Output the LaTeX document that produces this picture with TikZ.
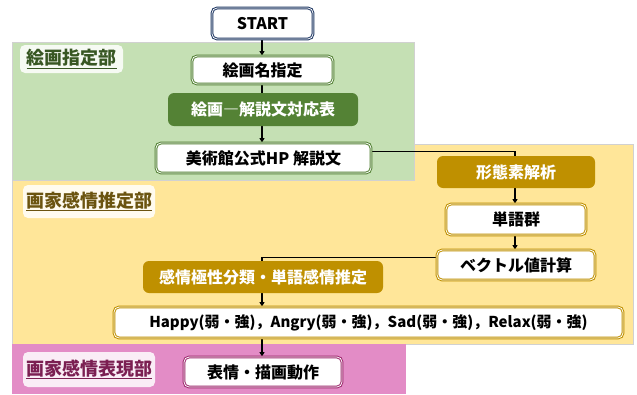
\documentclass[tikz,border=0pt]{standalone}
\usepackage{fontspec}
\setmainfont{Noto Sans CJK JP}
\usetikzlibrary{arrows.meta}
\definecolor{greg}{HTML}{C5E0B4}
\definecolor{yelreg}{HTML}{FFE699}
\definecolor{pinkreg}{HTML}{E38CC6}
\definecolor{dgreen}{HTML}{548235}
\definecolor{ochre}{HTML}{BF9000}
\definecolor{navy}{HTML}{203864}
\definecolor{magb}{HTML}{9E2A6E}
\definecolor{gtext}{HTML}{385723}
\definecolor{ytext}{HTML}{6B5410}
\definecolor{ptext}{HTML}{7B1F52}
\pgfdeclarelayer{regions}
\pgfdeclarelayer{edges}
\pgfsetlayers{regions,edges,main}
\tikzset{
  wbox/.style={fill=white, rounded corners=5, line width=1pt, double=white, double distance=0.8pt, font=\fontsize{16}{18}\selectfont\bfseries, inner sep=0pt},
  fbox/.style={rounded corners=6, text=white, font=\fontsize{16}{18}\selectfont\bfseries, inner sep=0pt},
  labbox/.style={fill=white, fill opacity=0.85, text opacity=1, rounded corners=5, font=\fontsize{18}{20}\selectfont\bfseries, inner sep=0pt},
  region/.style={draw=black!18, line width=0.6pt},
  conn/.style={line width=1.1pt, black},
  arr/.style={conn, -{Triangle[length=4.5pt, width=5pt]}}
}
\begin{document}
\begin{tikzpicture}[x=1pt, y=-1pt]
\useasboundingbox (0,0) rectangle (637,394);
\begin{pgfonlayer}{regions}
  \filldraw[region, fill=yelreg] (12,144) rectangle (633,344);
  \filldraw[region, fill=greg] (12,42) rectangle (414,180);
  \fill[pinkreg] (12,344) rectangle (406,394);
\end{pgfonlayer}
% labels
\node[labbox, minimum width=103, minimum height=28, text=gtext] (lab1) at (71.5,59) {\underline{絵画指定部}};
\node[labbox, minimum width=132, minimum height=33, text=ytext] (lab2) at (89,201.5) {\underline{画家感情推定部}};
\node[labbox, minimum width=132, minimum height=35, text=ptext] (lab3) at (89,369.5) {\underline{画家感情表現部}};
% nodes
\node[wbox, draw=navy, minimum width=101, minimum height=31] (start) at (262.5,23.5) {START};
\node[wbox, draw=dgreen, minimum width=141, minimum height=28] (name) at (262.5,70) {絵画名指定};
\node[fbox, fill=dgreen, minimum width=190, minimum height=33] (table) at (263,109.5) {絵画―解説文対応表};
\node[wbox, draw=dgreen, minimum width=215, minimum height=30] (hp) at (263.5,158) {美術館公式HP 解説文};
\node[fbox, fill=ochre, minimum width=158, minimum height=32] (morph) at (516,172) {形態素解析};
\node[wbox, draw=ochre, minimum width=140, minimum height=31] (words) at (516,219.5) {単語群};
\node[wbox, draw=ochre, minimum width=158, minimum height=30] (vec) at (516,265) {ベクトル値計算};
\node[fbox, fill=ochre, minimum width=240, minimum height=32] (emo) at (263,277) {感情極性分類・単語感情推定};
\node[wbox, draw=ochre, minimum width=509, minimum height=31, font=\fontsize{15}{17}\selectfont\bfseries] (res) at (368.5,322.5) {Happy(弱・強)，Angry(弱・強)，Sad(弱・強)，Relax(弱・強)};
\node[wbox, draw=magb, minimum width=158, minimum height=30] (expr) at (263,372) {表情・描画動作};
% connectors
\begin{pgfonlayer}{edges}
  \draw[arr] (262,0 |- start.south) -- (262,0 |- name.north);
  \draw[conn] (262,0 |- name.south) -- (262,0 |- table.north);
  \draw[arr] (262,0 |- table.south) -- (262,0 |- hp.north);
  \draw[conn] ([yshift=6.3]hp.east) -| (515,0 |- morph.north);
  \draw[arr] (515,0 |- morph.south) -- (515,0 |- words.north);
  \draw[arr] (515,0 |- words.south) -- (515,0 |- vec.north);
  \draw[conn] ([yshift=7.3]vec.west) -| (262,0 |- emo.north);
  \draw[arr] (262,0 |- emo.south) -- (262,0 |- res.north);
  \draw[arr] (262,0 |- res.south) -- (262,0 |- expr.north);
\end{pgfonlayer}
\end{tikzpicture}
\end{document}
